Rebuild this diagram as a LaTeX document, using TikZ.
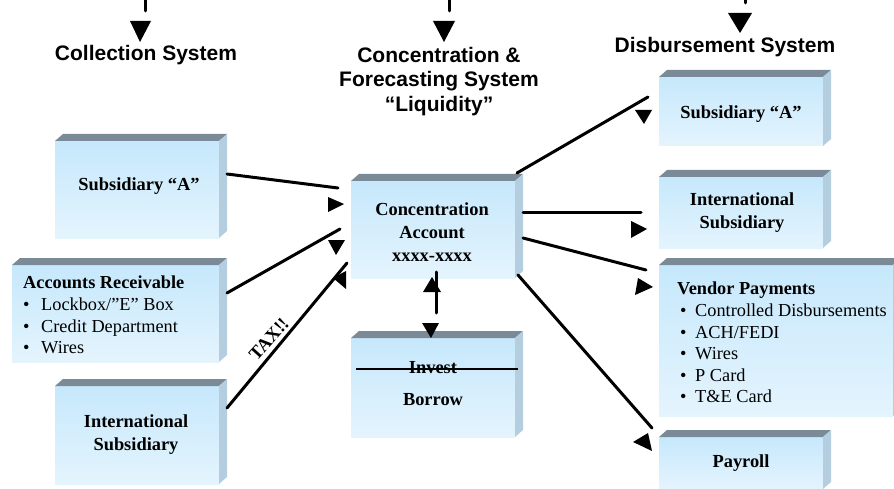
\documentclass[tikz,border=0pt]{standalone}
\usepackage{fontspec}
\setmainfont{Liberation Serif}
\newfontfamily\headfont{Liberation Sans}
\usetikzlibrary{calc}

\definecolor{frontTop}{RGB}{198,232,252}
\definecolor{frontBot}{RGB}{228,244,253}
\definecolor{topFace}{RGB}{122,138,150}
\definecolor{sideFace}{RGB}{180,206,224}

\tikzset{
  front/.style={top color=frontTop, bottom color=frontBot, draw=none,
    inner sep=0pt, outer sep=0pt},
  topface/.style={fill=topFace},
  sideface/.style={fill=sideFace},
  conn/.style={line width=3pt, line cap=round},
  head/.style={fill=black},
  boxtxt/.style={font=\rmfamily\fontsize{18.4}{23}\selectfont\bfseries, inner sep=0pt},
  listtxt/.style={font=\rmfamily\fontsize{18.3}{21.6}\selectfont, inner sep=0pt, align=left},
  headtxt/.style={font=\headfont\fontsize{21}{24.5}\selectfont\bfseries,
    inner sep=0pt, align=center},
}

% a bevelled slab: front face as a named node, then its top and right faces
% #1 name, #2 left, #3 top, #4 right, #5 bottom
\newcommand\slab[5]{%
  \pgfmathsetmacro\slabw{#4-#2}\pgfmathsetmacro\slabh{#5-#3}%
  \node[front, minimum width=\slabw pt, minimum height=\slabh pt,
        anchor=north west] (#1) at (#2,#3) {};
  \fill[topface] (#1.north west) -- (#1.north east) -- ++(8pt,7pt)
     -- ($(#1.north west)+(8pt,7pt)$) -- cycle;
  \fill[sideface] (#1.north east) -- ++(8pt,7pt)
     -- ($(#1.south east)+(8pt,7pt)$) -- (#1.south east) -- cycle;
}

\begin{document}
\begin{tikzpicture}[x=1pt,y=-1pt]
\useasboundingbox (0,0) rectangle (894,489);

% ---- headings with their incoming arrows
\node[headtxt, anchor=base] (hcoll) at (146,61) {Collection System};
\node[headtxt, anchor=north] (hconc) at (439,47)
  {Concentration \&\\Forecasting System\\“Liquidity”};
\node[headtxt, anchor=base] (hdisb) at (725,53) {Disbursement System};

\coordinate (s1a) at (145,-6); \coordinate (s1b) at (145,11);
\coordinate (s2a) at (449,-6); \coordinate (s2b) at (449,11);
\coordinate (s3a) at (745,-6); \coordinate (s3b) at (745,3);
\draw[conn] (s1a) -- (s1b);
\draw[conn] (s2a) -- (s2b);
\draw[conn] (s3a) -- (s3b);
\fill[head] (130,21) -- (151,21) -- (140,42) -- cycle;
\fill[head] (433,21) -- (455,21) -- (444,42) -- cycle;
\fill[head] (728,13) -- (752,13) -- (740,33) -- cycle;

% ---- slabs
\slab{lsub}{55}{141}{219}{238}
\slab{ar}{12}{265}{219}{362}
\slab{lintl}{55}{386}{219}{484}
\slab{conc}{351}{181}{515}{278}
\slab{inv}{351}{338}{515}{437}
\slab{rsub}{659}{77}{823}{146}
\slab{rintl}{659}{177}{823}{248}
\slab{vend}{659}{265}{893}{416}
\slab{pay}{659}{437}{823}{489}

% ---- slab texts
\node[boxtxt, anchor=base] (tlsub) at (139,191) {Subsidiary “A”};
\node[listtxt, anchor=north west] (tar) at (23,276)
  {\textbf{Accounts Receivable}\\
   \makebox[18pt][l]{\textbullet}Lockbox/”E” Box\\
   \makebox[18pt][l]{\textbullet}Credit Department\\
   \makebox[18pt][l]{\textbullet}Wires};
\node[boxtxt, anchor=north, align=center] (tlintl) at (136,415)
  {International\\Subsidiary};
\node[boxtxt, anchor=north, align=center] (tconc) at (432,203)
  {Concentration\\Account\\xxxx-xxxx};
\node[boxtxt, anchor=base] (tinv) at (433,373) {Invest};
\node[boxtxt, anchor=base] (tbor) at (433,405) {Borrow};
\draw[line width=1.5pt] (356,369) -- (518,369);
\node[boxtxt, anchor=base] (trsub) at (741,119) {Subsidiary “A”};
\node[boxtxt, anchor=north, align=center] (trintl) at (742,193)
  {International\\Subsidiary};
\node[listtxt, anchor=north west] (tvend) at (677,282)
  {\textbf{Vendor Payments}\\
   \hspace*{3pt}\makebox[15pt][l]{\textbullet}Controlled Disbursements\\
   \hspace*{3pt}\makebox[15pt][l]{\textbullet}ACH/FEDI\\
   \hspace*{3pt}\makebox[15pt][l]{\textbullet}Wires\\
   \hspace*{3pt}\makebox[15pt][l]{\textbullet}P Card\\
   \hspace*{3pt}\makebox[15pt][l]{\textbullet}T\&E Card};
\node[boxtxt, anchor=base] (tpay) at (741,467) {Payroll};

% ---- flows into the concentration account
\coordinate (c1a) at (227,174); \coordinate (c1b) at (338,188);
\coordinate (c2a) at (227,293); \coordinate (c2b) at (340,229);
\coordinate (c3a) at (227,408); \coordinate (c3b) at (347,263);
\draw[conn] (c1a) -- (c1b);
\draw[conn] (c2a) -- (c2b);
\draw[conn] (c3a) -- (c3b);
\fill[head] (328,197) -- (328,212) -- (344,204) -- cycle;
\fill[head] (328,240) -- (345,240) -- (336,255) -- cycle;
\fill[head] (346,271) -- (346,289) -- (333,278) -- cycle;
\node[boxtxt, rotate=48] (ttax) at (269,339) {TAX!!};

% ---- invest / borrow exchange
\coordinate (c4a) at (436,272); \coordinate (c4b) at (436,313);
\draw[conn] (c4a) -- (c4b);
\fill[head] (423,292) -- (441,292) -- (432,277) -- cycle;
\fill[head] (422,323) -- (439,323) -- (431,338) -- cycle;

% ---- flows out to disbursements
\coordinate (c5a) at (517,173); \coordinate (c5b) at (648,97);
\coordinate (c6a) at (523,213); \coordinate (c6b) at (641,213);
\coordinate (c7a) at (523,238); \coordinate (c7b) at (646,270);
\coordinate (c8a) at (518,275); \coordinate (c8b) at (652,428);
\draw[conn] (c5a) -- (c5b);
\draw[conn] (c6a) -- (c6b);
\draw[conn] (c7a) -- (c7b);
\draw[conn] (c8a) -- (c8b);
\fill[head] (635,110) -- (652,110) -- (644,124) -- cycle;
\fill[head] (631,221) -- (631,238) -- (647,229) -- cycle;
\fill[head] (638,278) -- (635,295) -- (653,287) -- cycle;
\fill[head] (648,433) -- (633,442) -- (652,451) -- cycle;
\end{tikzpicture}
\end{document}
